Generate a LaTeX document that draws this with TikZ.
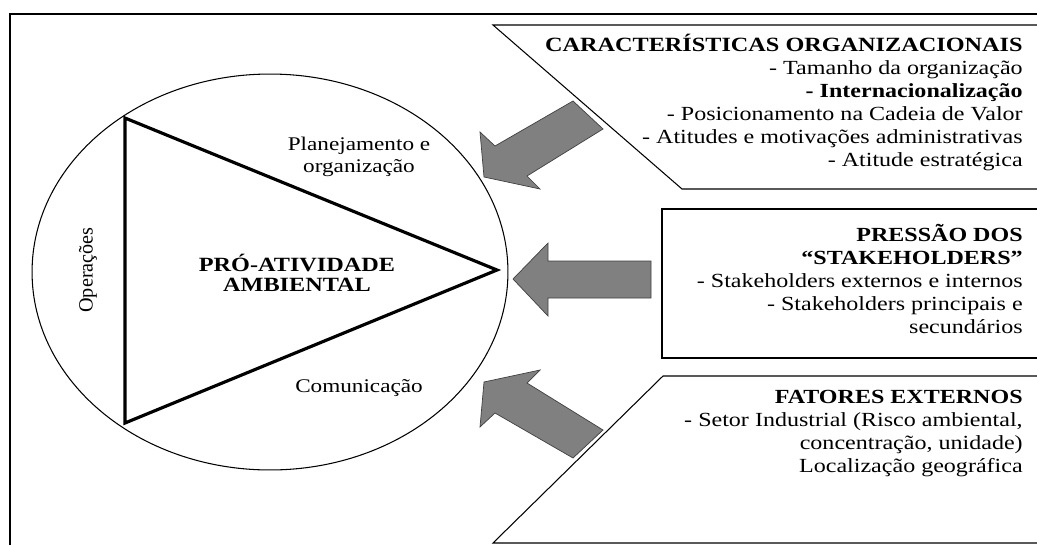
\documentclass[tikz,border=0pt]{standalone}
\usepackage{fontspec}
\setmainfont{Liberation Serif}[FakeStretch=1.2]
\newfontfamily\plainserif{Liberation Serif}
\usepackage{tikz}
\usetikzlibrary{shapes,shapes.geometric,positioning}

\tikzset{
  frame/.style={line width=1.2pt},
  panel/.style={line width=0.6pt},
  side/.style={line width=1.8pt, line join=miter},
  blockarrow/.style={fill=gray, draw=black!75, line width=0.4pt, line join=miter},
  label/.style={inner sep=0pt, align=center, font=\fontsize{11}{12.5}\selectfont},
  listing/.style={inner sep=0pt, align=right, font=\fontsize{11.4}{13.1}\selectfont},
}

\begin{document}
\begin{tikzpicture}[x=0.02cm, y=-0.02cm]
    \useasboundingbox (0,0) rectangle (1037,545);
    \draw[frame] (10,545) -- (10,14) -- (1037,14);

    % circle with the triangle
    \node[draw, ellipse, line width=0.6pt, inner sep=0pt, minimum width=9.52cm, minimum height=7.92cm] (disc) at (270,272) {};
    \coordinate (top) at (125,118);
    \coordinate (bottom) at (125,423);
    \coordinate (apex) at (497,270);
    \draw[side] (top) -- (apex) -- (bottom) -- cycle;

    \node[label] (plan) at (359,157) {Planejamento e\\organização};
    \node[label, font=\fontsize{11.5}{11.5}\selectfont\bfseries] (core) at (297,273) {PRÓ-ATIVIDADE\\AMBIENTAL};
    \node[label] (comm) at (359,388) {Comunicação};
    \node[inner sep=0pt, rotate=90, font=\plainserif\fontsize{11.5}{13}\selectfont] (ops) at (88,270) {Operações};

    % the three panels
    \draw[panel] (1037,25) -- (493,25) -- (682,189) -- (1037,189);
    \draw[panel] (1037,209) -- (662,209) -- (662,358) -- (1037,358);
    \draw[panel] (1037,376) -- (663,376) -- (493,543) -- (1037,543);

    \node[listing, anchor=north east] (orgtext) at (1023,34) {\textbf{\fontsize{11.5}{13.1}\selectfont CARACTERÍSTICAS ORGANIZACIONAIS}\\- Tamanho da organização\\\textbf{- Internacionalização}\\- Posicionamento na Cadeia de Valor\\- Atitudes e motivações administrativas\\- Atitude estratégica};
    \node[listing, anchor=north east] (staketext) at (1023,224) {\textbf{PRESSÃO DOS}\\\textbf{“STAKEHOLDERS”}\\- Stakeholders externos e internos\\- Stakeholders principais e\\secundários};
    \node[listing, anchor=north east] (exttext) at (1023,390) {\textbf{FATORES EXTERNOS}\\- Setor Industrial (Risco ambiental,\\concentração, unidade)\\Localização geográfica};

    % arrows towards the circle
    \draw[blockarrow] (573,101) -- (603,129) -- (527,176) -- (540,189) -- (484,177) -- (480,132) -- (495,146) -- cycle;
    \draw[blockarrow] (651,261) -- (651,298) -- (548,298) -- (548,316) -- (513,279) -- (548,243) -- (548,261) -- cycle;
    \draw[blockarrow] (573,458) -- (603,430) -- (527,383) -- (540,370) -- (484,382) -- (480,427) -- (495,413) -- cycle;
\end{tikzpicture}
\end{document}
